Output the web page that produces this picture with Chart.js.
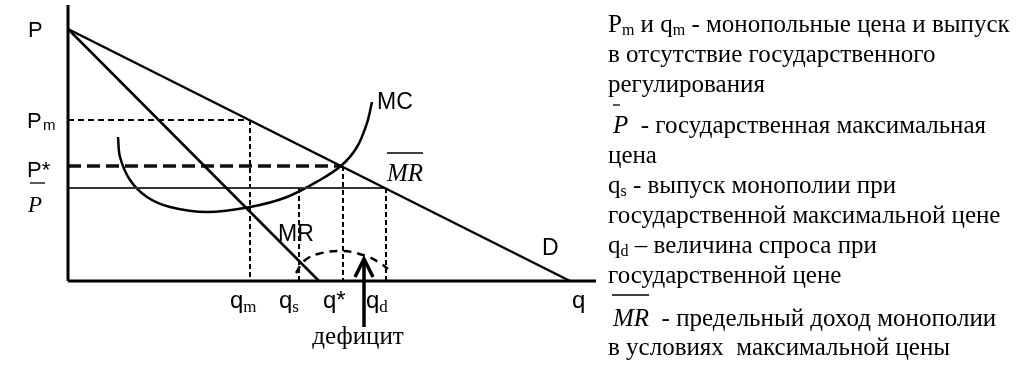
<!DOCTYPE html>
<html><head><meta charset="utf-8">
<script src="https://cdn.jsdelivr.net/npm/chart.js@4/dist/chart.umd.min.js"></script>
<style>html,body{margin:0;padding:0;background:#fff}#wrap{width:1024px;height:370px;position:relative}</style>
</head><body><div id="wrap"><canvas id="c" width="1024" height="370"></canvas></div>
<script>
// Diagram values (q horizontal, P vertical), origin where the axes cross
const axisMaxQ = 528;
const axisMaxP = 276;
const demandQ = [0, 502];
const demandP = [252, 0];
const mrQ = [0, 251];
const mrP = [252, 0];
const mcQ = [50, 52, 62, 79, 102, 139, 182, 219, 252, 274, 289, 299, 304];
const mcP = [144, 124, 101, 84, 74, 69, 74, 84, 101, 116, 134, 158, 179];
const deficitQ = [228, 236, 250, 275, 298, 312, 320];
const deficitP = [8, 20, 27, 30, 25, 18, 12];
const priceNames = ['P', 'Pm', 'P*', 'Pbar'];
const priceLevels = [252, 161, 115, 93];
const quantityNames = ['qm', 'qs', 'q*', 'qd'];
const quantityLevels = [182, 231, 275, 318];
const arrowShaftP = [-46, 22];
const arrowHeadQ = [287, 296, 305];
const arrowHeadP = [4, 22, 4];
const legendLines = [
  [['P',''],['m','sub'],[' и q',''],['m','sub'],[' - монопольные цена и выпуск','']],
  [['в отсутствие государственного','']],
  [['регулирования','']],
  [['P','itbar'],['  - государственная максимальная','']],
  [['цена','']],
  [['q',''],['s','sub'],[' - выпуск монополии при','']],
  [['государственной максимальной цене','']],
  [['q',''],['d','sub'],[' – величина спроса при','']],
  [['государственной цене','']],
  [['MR','itbar'],['  - предельный доход монополии','']],
  [['в условиях  максимальной цены','']]
];

const P = name => priceLevels[priceNames.indexOf(name)];
const Q = name => quantityLevels[quantityNames.indexOf(name)];
const pts = (xs, ys) => xs.map((x, i) => ({x, y: ys[i]}));

function ds(data, opts) {
  return Object.assign({data, borderColor: '#000', borderWidth: 2.5, pointRadius: 0, fill: false, tension: 0, clip: false}, opts);
}

const datasets = [
  ds(pts([0, 0], [0, axisMaxP]), {borderWidth: 3}),
  ds(pts([0, axisMaxQ], [0, 0]), {borderWidth: 3}),
  ds(pts(demandQ, demandP)),
  ds(pts(mrQ, mrP)),
  ds(pts([0, Q('qm')], [P('Pm'), P('Pm')]), {borderWidth: 2, borderDash: [6, 4]}),
  ds(pts([0, Q('q*')], [P('P*'), P('P*')]), {borderWidth: 3.5, borderDash: [13, 6], borderColor: '#111'}),
  ds(pts([0, Q('qd')], [P('Pbar'), P('Pbar')]), {borderWidth: 2, borderColor: '#333'}),
  ds(pts([Q('qm'), Q('qm')], [P('Pm'), 0]), {borderWidth: 2, borderDash: [5, 3]}),
  ds(pts([Q('qs'), Q('qs')], [P('Pbar'), 0]), {borderWidth: 2, borderDash: [5, 3]}),
  ds(pts([Q('q*'), Q('q*')], [P('P*'), 0]), {borderWidth: 2, borderDash: [5, 3]}),
  ds(pts([Q('qd'), Q('qd')], [P('Pbar'), 0]), {borderWidth: 2, borderDash: [5, 3]}),
  ds(pts(mcQ, mcP), {tension: 0.35}),
  ds(pts(deficitQ, deficitP), {borderWidth: 2.5, borderDash: [8, 6], tension: 0.4}),
  ds(pts([arrowHeadQ[1], arrowHeadQ[1]], arrowShaftP), {borderWidth: 3.5}),
  ds(pts(arrowHeadQ, arrowHeadP), {borderWidth: 3.5, borderJoinStyle: 'miter'})
];

const SANS = '"Liberation Sans", Arial, sans-serif';
const SERIF = '"Liberation Serif", "Times New Roman", serif';

function overline(ctx, x1, x2, y, w) {
  ctx.save(); ctx.strokeStyle = '#000'; ctx.lineWidth = w || 1.3;
  ctx.beginPath(); ctx.moveTo(x1, y); ctx.lineTo(x2, y); ctx.stroke(); ctx.restore();
}

const textPlugin = {
  id: 'texts',
  afterDraw(chart) {
    const ctx = chart.ctx;
    const X = v => chart.scales.x.getPixelForValue(v);
    const Y = v => chart.scales.y.getPixelForValue(v);
    ctx.save();
    ctx.fillStyle = '#000';
    ctx.textBaseline = 'alphabetic';
    ctx.textAlign = 'left';
    const x0 = X(0);
    // price labels
    ctx.font = '22px ' + SANS;
    ctx.fillText('P', x0 - 40, Y(P('P')) + 8);
    ctx.fillText('P', x0 - 41, Y(P('Pm')) + 8);
    ctx.font = '15px ' + SANS;
    ctx.fillText('m', x0 - 25, Y(P('Pm')) + 10);
    ctx.font = '22px ' + SANS;
    ctx.fillText('P*', x0 - 41, Y(P('P*')) + 11);
    overline(ctx, x0 - 38, x0 - 23, Y(P('Pbar')) - 5);
    ctx.font = 'italic 23px ' + SERIF;
    ctx.fillText('P', x0 - 40, Y(P('Pbar')) + 24);
    // quantity labels
    quantityNames.forEach((n, i) => {
      const lx = X(quantityLevels[i]) - 20, by = Y(0) + 27;
      ctx.font = '24px ' + SANS;
      if (n === 'q*') { ctx.fillText('q*', lx, by); return; }
      ctx.fillText('q', lx, by);
      const w = ctx.measureText('q').width;
      ctx.font = '17px ' + SERIF;
      ctx.fillText(n.slice(1), lx + w, by + 4);
    });
    ctx.font = '24px ' + SANS;
    ctx.fillText('q', X(504), Y(0) + 27);
    // curve labels
    ctx.font = '23px ' + SANS;
    ctx.fillText('MC', X(mcQ[mcQ.length - 1]) + 5, Y(mcP[mcP.length - 1]) + 7);
    ctx.fillText('MR', X(210), Y(42) + 2);
    ctx.fillText('D', X(474), Y(26));
    ctx.font = 'italic 25px ' + SERIF;
    const mrx = X(Q('qd')) + 1, mry = Y(P('Pbar')) - 7;
    ctx.fillText('MR', mrx, mry);
    overline(ctx, mrx, mrx + 36, mry - 28);
    // deficit
    ctx.font = '25px ' + SERIF;
    ctx.textAlign = 'center';
    ctx.fillText('дефицит', X(arrowHeadQ[1]) - 6, Y(0) + 63);
    ctx.textAlign = 'left';
    // legend text block
    const lx0 = 608;
    const baselines = [32, 62, 92, 133, 163, 193, 223, 253, 283, 326, 355];
    legendLines.forEach((runs, li) => {
      let x = lx0; const by = baselines[li];
      runs.forEach(([t, kind]) => {
        if (kind === 'sub') {
          ctx.font = '16px ' + SERIF; ctx.fillText(t, x, by + 3);
          x += ctx.measureText(t).width;
        } else if (kind === 'itbar') {
          ctx.font = 'italic 25px ' + SERIF;
          const tx = x + 5;
          ctx.fillText(t, tx, by);
          const w = ctx.measureText(t).width;
          if (t === 'P') overline(ctx, tx, tx + 7, by - 28); else overline(ctx, tx - 1, tx + w, by - 31);
          x = tx + w;
        } else {
          ctx.font = '25px ' + SERIF; ctx.fillText(t, x, by);
          x += ctx.measureText(t).width;
        }
      });
    });
    ctx.restore();
  }
};

new Chart(document.getElementById('c'), {
  type: 'line',
  data: {datasets},
  options: {
    responsive: false,
    animation: false,
    events: [],
    layout: {padding: 0},
    plugins: {legend: {display: false}, tooltip: {enabled: false}, title: {display: false}},
    scales: {
      x: {type: 'linear', min: -68, max: 956, display: false},
      y: {type: 'linear', min: -89, max: 281, display: false}
    }
  },
  plugins: [textPlugin]
});
</script>
</body></html>
